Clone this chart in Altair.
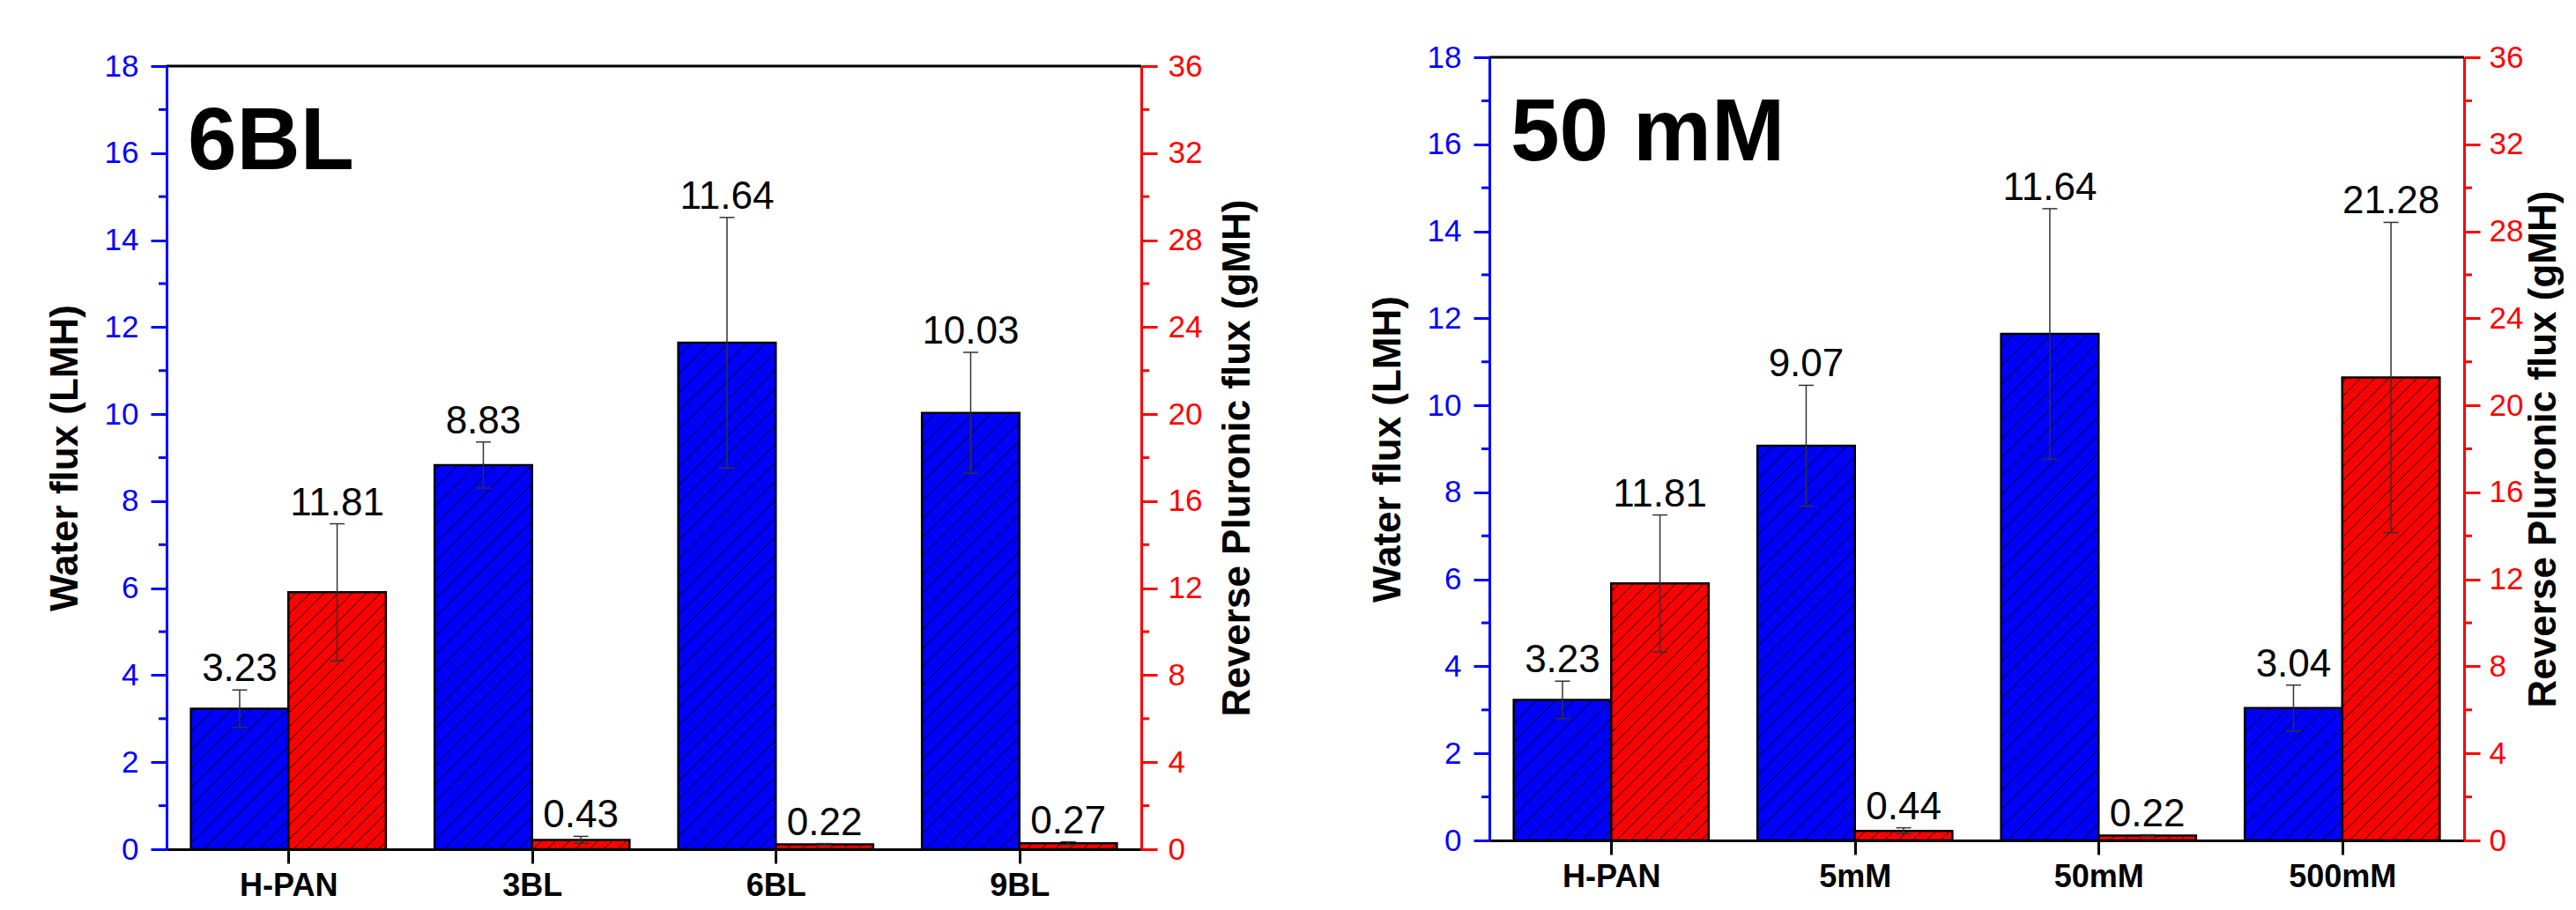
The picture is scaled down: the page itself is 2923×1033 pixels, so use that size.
import json
import numpy as np
import pandas as pd
import altair as alt

# ---------------- data ----------------
cats1 = ["H-PAN", "3BL", "6BL", "9BL"]
water1 = [3.23, 8.83, 11.64, 10.03]
water1_err = [0.43, 0.53, 2.88, 1.39]
rev1 = [11.81, 0.43, 0.22, 0.27]
rev1_err = [3.15, 0.16, 0.04, 0.07]

cats2 = ["H-PAN", "5mM", "50mM", "500mM"]
water2 = [3.23, 9.07, 11.64, 3.04]
water2_err = [0.43, 1.39, 2.88, 0.53]
rev2 = [11.81, 0.44, 0.22, 21.28]
rev2_err = [3.15, 0.14, 0.04, 7.13]

left_ticks = [0, 2, 4, 6, 8, 10, 12, 14, 16, 18]
left_minor = [1, 3, 5, 7, 9, 11, 13, 15, 17]
right_ticks = [0, 4, 8, 12, 16, 20, 24, 28, 32, 36]
right_minor = [2, 6, 10, 14, 18, 22, 26, 30, 34]

# ---------------- style / layout ----------------
BLUE = "#0000FF"
RED = "#FF0000"
FONT = "Liberation Sans, Arial, sans-serif"
W, H = 1106, 889          # plot area of each panel
SHIFT = 10                # right panel sits a little higher than the left one
HV = H + SHIFT            # view height of each panel
XMAX = 4
YL, YR = 18, 36
PXX = W / XMAX
BAR = 0.4
CAP = 8.5 / PXX

xscale = alt.Scale(domain=[0, XMAX], nice=False, zero=False)


def hatch(x0, x1, h, pxy, s):
    u0, u1 = x0 * PXX, x1 * PXX
    hv = h * pxy
    segs = []
    kmin = int(np.floor((u0 - hv) / s)) - 1
    kmax = int(np.ceil(u1 / s)) + 1
    for k in range(kmin, kmax + 1):
        c = k * s
        lo = max(u0, c)
        hi = min(u1, c + hv)
        if hi - lo > 0.5:
            segs.append(dict(hx=lo / PXX, hx2=hi / PXX, hy=(lo - c) / pxy, hy2=(hi - c) / pxy))
    return segs


def make_xaxis(cats, offset):
    return alt.Axis(
        values=[i + 0.5 for i in range(len(cats))],
        labelExpr=json.dumps(cats) + "[floor(datum.value)]",
        title=None, grid=False, offset=offset,
        domainColor="black", domainWidth=3,
        tickColor="black", tickWidth=3, tickSize=16,
        labelFont=FONT, labelFontSize=36, labelFontWeight="bold",
        labelColor="black", labelPadding=8, labelFlush=False,
        labelOverlap=False,
    )


def make_yaxis(orient, color, values, title, label_pad, title_pad):
    kw = dict(
        orient=orient, values=values, title=title, grid=False,
        domainColor=color, domainWidth=3,
        tickColor=color, tickWidth=3, tickSize=18,
        labelColor=color, labelFont=FONT, labelFontSize=35,
        labelPadding=label_pad, labelFlush=False, labelOverlap=False,
        titleFont=FONT, titleFontSize=44, titleFontWeight="bold",
        titleColor="black", titlePadding=title_pad,
    )
    if orient == "right":
        kw["titleAngle"] = 270
        kw["titleBaseline"] = "top"
    return alt.Axis(**kw)


def series_group(cats, vals, errs, side, color, ymax, yaxis, spacing,
                 minor_vals, minor_x, xaxis, top_px):
    pxy = H / ymax
    yscale = alt.Scale(domain=[0, ymax], nice=False, zero=True,
                       range=[top_px + H, top_px])
    rows, hrows, caps = [], [], []
    for i, (v, e) in enumerate(zip(vals, errs)):
        c = i + 0.5
        x0, x1 = (c - BAR, c) if side == "left" else (c, c + BAR)
        xc = (x0 + x1) / 2
        rows.append(dict(x0=x0, x1=x1, xc=xc, v=v, zero=0.0, lo=v - e, hi=v + e,
                         lab=f"{v:.2f}"))
        hrows += hatch(x0, x1, v, pxy, spacing)
        caps.append(dict(cx=xc - CAP, cx2=xc + CAP, cy=v - e))
        caps.append(dict(cx=xc - CAP, cx2=xc + CAP, cy=v + e))
    df = pd.DataFrame(rows)
    dh = pd.DataFrame(hrows)
    dc = pd.DataFrame(caps)
    dm = pd.DataFrame({"m": minor_vals})

    X = lambda f: alt.X(f, type="quantitative", scale=xscale, axis=xaxis)
    Y = lambda f: alt.Y(f, type="quantitative", scale=yscale, axis=yaxis)

    bars = alt.Chart(df).mark_bar(color=color, stroke="black", strokeWidth=2.5).encode(
        x=X("x0"), x2="x1", y=Y("v"), y2="zero")
    hat = alt.Chart(dh).mark_rule(color="black", strokeWidth=0.9).encode(
        x=X("hx"), x2="hx2", y=Y("hy"), y2="hy2")
    err = alt.Chart(df).mark_rule(color="#333333", strokeWidth=1.5).encode(
        x=X("xc"), y=Y("lo"), y2="hi")
    cap = alt.Chart(dc).mark_rule(color="#333333", strokeWidth=1.5).encode(
        x=X("cx"), x2="cx2", y=Y("cy"))
    txt = alt.Chart(df).mark_text(font=FONT, fontSize=44, color="black",
                                  baseline="alphabetic", dy=-10).encode(
        x=X("xc"), y=Y("hi"), text="lab")
    minor = alt.Chart(dm).mark_rule(color=color, strokeWidth=3).encode(
        y=Y("m"), x=alt.value(minor_x[0]), x2=alt.value(minor_x[1]))
    return alt.layer(bars, hat, err, cap, txt, minor)


def panel(cats, water, werr, rev, rerr, label, right_title_pad, right_label_pad, top_px):
    xaxis = make_xaxis(cats, -(SHIFT - top_px))
    ax_l = make_yaxis("left", BLUE, left_ticks, "Water flux (LMH)", 14, 22)
    ax_r = make_yaxis("right", RED, right_ticks, "Reverse Pluronic flux (gMH)",
                      right_label_pad, right_title_pad)
    blue = series_group(cats, water, werr, "left", BLUE, YL, ax_l, 21,
                        left_minor, (-9, 0), xaxis, top_px)
    red = series_group(cats, rev, rerr, "right", RED, YR, ax_r, 16,
                       right_minor, (W, W + 9), xaxis, top_px)
    one = pd.DataFrame({"t": [label]})
    top = alt.Chart(one).mark_rule(color="black", strokeWidth=3).encode(
        x=alt.value(0), x2=alt.value(W), y=alt.value(top_px))
    ann = alt.Chart(one).mark_text(font=FONT, fontSize=100, fontWeight="bold",
                                   color="black", align="left",
                                   baseline="alphabetic").encode(
        x=alt.value(24), y=alt.value(top_px + 117), text="t")
    return alt.layer(blue, red, top, ann).resolve_scale(y="independent").properties(
        width=W, height=HV)


p1 = panel(cats1, water1, water1_err, rev1, rev1_err, "6BL", 19, 12, SHIFT)
p2 = panel(cats2, water2, water2_err, rev2, rev2_err, "50 mM", 2, 10, 0)

chart = alt.hconcat(p1, p2, spacing=126).properties(
    padding={"left": 44, "top": 40, "right": 0, "bottom": 0}
).configure_view(stroke=None)

chart.save("out.html", embed_options={"renderer": "svg", "actions": False})
